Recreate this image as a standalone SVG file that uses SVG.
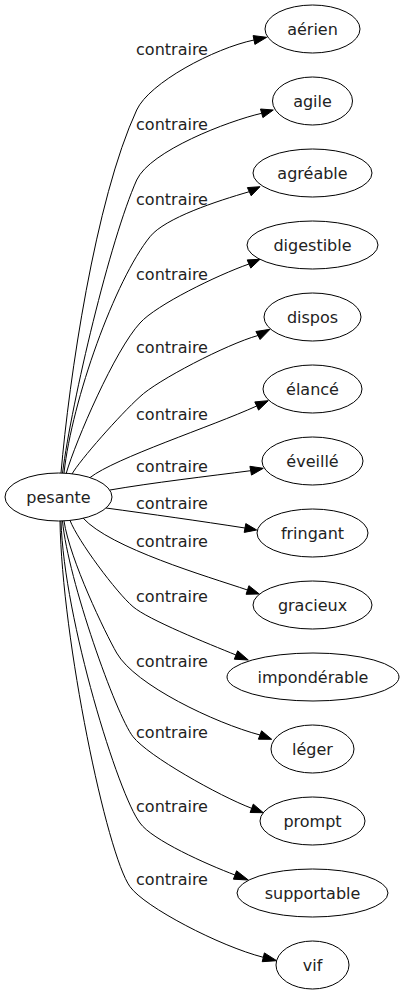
<svg xmlns="http://www.w3.org/2000/svg" width="404" height="995" viewBox="0 0 404 995">
<style>
.n ellipse{fill:#fff;stroke:#000;stroke-width:1}
text{font-family:"DejaVu Sans",Verdana,sans-serif;font-size:16px;fill:#222;text-anchor:middle}
.e path{fill:none;stroke:#000;stroke-width:1}
.e polygon{fill:#000;stroke:#000;stroke-width:1}
</style>
<rect width="404" height="995" fill="#fff"/>
<g class="e" id="connectors">
<path d="M61,473 C69,380 95,200 136.7,110 C149.3,82.7 214,48.4 254,40"/>
<polygon points="266.7,37.3 254.9,44.4 253.1,35.6"/>
<text x="172" y="55">contraire</text>
<path d="M62.5,473 C72,400 110,240 136.7,180 C150,151 228,121 261.7,113.3"/>
<polygon points="273.3,110 262.9,117.6 260.5,109"/>
<text x="172" y="130">contraire</text>
<path d="M64,473 C72,400 115,280 150,236.7 C165,218 217,201 249.3,191.7"/>
<polygon points="260,186.7 251.2,195.8 247.4,187.6"/>
<text x="172" y="205">contraire</text>
<path d="M66,474 C76,440 115,350 140,323 C156,305 217.5,275 249,264"/>
<polygon points="260,259.3 250.8,268.1 247.2,259.9"/>
<text x="172" y="280">contraire</text>
<path d="M72,474 C80,460 120,414.7 140,396.7 C156,381 227,344 258,335.5"/>
<polygon points="270,329.3 260.1,339.5 255.9,331.5"/>
<text x="172" y="353">contraire</text>
<path d="M90,477.6 C115,458 211.7,426.5 256.7,406"/>
<polygon points="268.3,400.7 258.6,410.1 254.8,401.9"/>
<text x="172" y="420">contraire</text>
<path d="M110,490 C150,483 210,476 250.7,470.7"/>
<polygon points="263.3,468.3 251.5,475.1 249.9,466.3"/>
<text x="172" y="472">contraire</text>
<path d="M106,508 C150,514 200,521 245,528"/>
<polygon points="256.7,530 244.2,532.4 245.8,523.6"/>
<text x="172" y="509">contraire</text>
<path d="M83,518 C110,548 207.5,576.5 247.5,590"/>
<polygon points="259.3,594 246.1,594.3 248.9,585.7"/>
<text x="172" y="547">contraire</text>
<path d="M70,520.4 C78,541 116.3,592.4 133,606.7 C148.2,619.7 208.2,643.7 236,655"/>
<polygon points="248.3,660 234.3,659.2 237.7,650.8"/>
<text x="172" y="602">contraire</text>
<path d="M64,521 C70,560 105,632.5 116.7,653 C135,685 215,723 260,735"/>
<polygon points="271.7,739.3 258.4,739.2 261.6,730.8"/>
<text x="172" y="667">contraire</text>
<path d="M62.5,521 C68,580 116,714.7 133,736.7 C148,756 219,795.9 251.7,808.3"/>
<polygon points="263.3,812.7 250.1,812.5 253.3,804.1"/>
<text x="172" y="738">contraire</text>
<path d="M61,521 C64,620 118.7,795.4 140,823 C152,840 206.9,864.4 235,875"/>
<polygon points="248.3,880 233.4,879.2 236.6,870.8"/>
<text x="172" y="812">contraire</text>
<path d="M60,521 C62,640 106.8,854.3 130,886.7 C144.5,907 219.7,946.2 263.3,957.3"/>
<polygon points="276.7,960.7 262.2,961.7 264.4,952.9"/>
<text x="172" y="885">contraire</text>
</g>
<g class="n" id="pesante"><ellipse cx="58.5" cy="497" rx="53.5" ry="24"/><text x="58.5" y="502.5">pesante</text></g>
<g class="n" id="aerien"><ellipse cx="312.5" cy="29" rx="47.5" ry="24"/><text x="312.5" y="34.5">aérien</text></g>
<g class="n" id="agile"><ellipse cx="312.5" cy="101" rx="40" ry="24"/><text x="312.5" y="106.5">agile</text></g>
<g class="n" id="agreable"><ellipse cx="312.5" cy="173" rx="59.5" ry="24"/><text x="312.5" y="178.5">agréable</text></g>
<g class="n" id="digestible"><ellipse cx="312.5" cy="245" rx="65.5" ry="24"/><text x="312.5" y="250.5">digestible</text></g>
<g class="n" id="dispos"><ellipse cx="312.5" cy="317" rx="48.5" ry="24"/><text x="312.5" y="322.5">dispos</text></g>
<g class="n" id="elance"><ellipse cx="312.5" cy="389" rx="49.5" ry="24"/><text x="312.5" y="394.5">élancé</text></g>
<g class="n" id="eveille"><ellipse cx="312.5" cy="461" rx="50.5" ry="24"/><text x="312.5" y="466.5">éveillé</text></g>
<g class="n" id="fringant"><ellipse cx="312.5" cy="533" rx="55.5" ry="24"/><text x="312.5" y="538.5">fringant</text></g>
<g class="n" id="gracieux"><ellipse cx="312.5" cy="605" rx="59.5" ry="24"/><text x="312.5" y="610.5">gracieux</text></g>
<g class="n" id="imponderable"><ellipse cx="313" cy="677" rx="86" ry="24"/><text x="313" y="682.5">impondérable</text></g>
<g class="n" id="leger"><ellipse cx="312.5" cy="749" rx="41.5" ry="24"/><text x="312.5" y="754.5">léger</text></g>
<g class="n" id="prompt"><ellipse cx="312.5" cy="821" rx="52.5" ry="24"/><text x="312.5" y="826.5">prompt</text></g>
<g class="n" id="supportable"><ellipse cx="312.5" cy="893" rx="75.5" ry="24"/><text x="312.5" y="898.5">supportable</text></g>
<g class="n" id="vif"><ellipse cx="312.5" cy="965" rx="36.5" ry="24"/><text x="312.5" y="970.5">vif</text></g>
</svg>
